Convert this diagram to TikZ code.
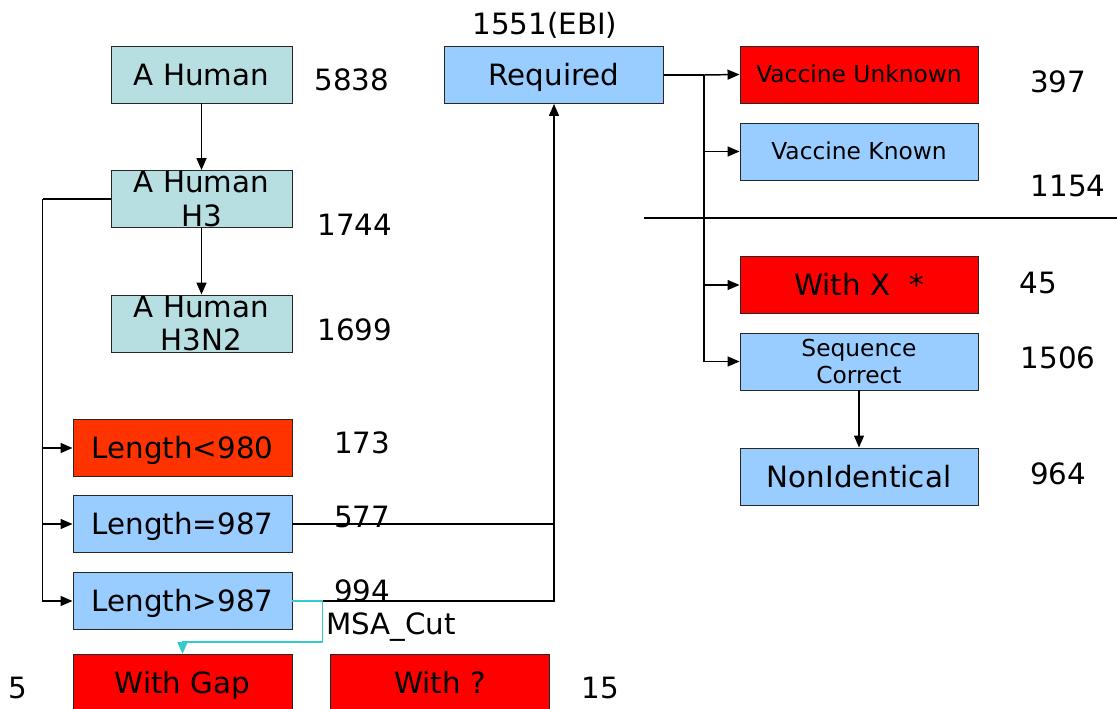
\documentclass[tikz,border=0pt]{standalone}
\usepackage{fontspec}
\setmainfont{DejaVu Sans}
\usetikzlibrary{arrows.meta}
\definecolor{humanteal}{HTML}{B7DEE0}
\definecolor{skyblue}{HTML}{99CCFF}
\definecolor{alertred}{HTML}{FF0000}
\definecolor{shortred}{HTML}{FF3300}
\definecolor{cutcyan}{HTML}{33CCCC}
\tikzset{
  box/.style={draw=black!85, line width=0.7pt, minimum height=42.75pt,
    inner sep=0pt, text height=16pt, text depth=0pt,
    font=\fontsize{22}{25}\selectfont},
  narrow/.style={box, minimum width=135.75pt},
  wide/.style={box, minimum width=164.25pt},
  wider/.style={box, minimum width=178.5pt},
  small/.style={font=\fontsize{17.5}{20.5}\selectfont, text height=12.75pt},
  twoline/.style={align=center, text height=, text depth=},
  count/.style={inner sep=0pt, font=\fontsize{22}{25}\selectfont},
  flow/.style={line width=1.1pt, -{Triangle[length=9pt, width=7.5pt]}},
  link/.style={line width=1.1pt},
  cut/.style={line width=1.1pt, draw=cutcyan, -{Triangle[length=9pt, width=7.5pt]}}
}

\begin{document}
\begin{tikzpicture}[x=0.75pt, y=-0.75pt]
  \useasboundingbox (0,0) rectangle (1117,709);

  % left column
  \node (human) [narrow, fill=humanteal] at (201.5,74.5) {A Human};
  \node (h3)    [narrow, fill=humanteal, label={[align=center, font=\fontsize{22}{25}\selectfont]center:A Human\\H3}] at (201.5,199) {};
  \node (h3n2)  [narrow, fill=humanteal, label={[align=center, font=\fontsize{22}{25}\selectfont]center:A Human\\H3N2}] at (201.5,323.5) {};

  \node (lenlt) [wide, fill=shortred] at (182.5,448) {Length<980};
  \node (leneq) [wide, fill=skyblue]  at (182.5,524) {Length=987};
  \node (lengt) [wide, fill=skyblue]  at (182.5,601) {Length>987};

  \node (withgap) [wide, fill=alertred] at (182.5,683) {With Gap};
  \node (withq)   [wide, fill=alertred] at (440,683)   {With ?};

  % middle and right column
  \node (required) [wide, fill=skyblue] at (554,75) {Required};

  \node (vunk)  [wider, small, fill=alertred] at (859,74.5)  {Vaccine Unknown};
  \node (vkn)   [wider, small, fill=skyblue]  at (859,151.5) {Vaccine Known};
  \node (withx) [wider, fill=alertred]        at (859,285)   {With X \ *};
  \node (seqc)  [wider, small, twoline, fill=skyblue] at (859,361.5) {Sequence\\Correct};
  \node (nonid) [wider, fill=skyblue]         at (859,476.5) {NonIdentical};

  % counts
  \node (nhuman) [count] at (352,80)  {5838};
  \node (nh3)    [count] at (355,225) {1744};
  \node (nh3n2)  [count] at (355,330) {1699};
  \node (nlenlt) [count] at (362,443) {173};
  \node (nleneq) [count] at (362,517) {577};
  \node (nlengt) [count] at (362,591) {994};
  \node (ncut)   [count] at (391,627) {MSA\_Cut};
  \node (ngap)   [count] at (18,688)  {5};
  \node (nq)     [count] at (600,688) {15};
  \node (nebi)   [count] at (545,25)  {1551(EBI)};
  \node (nvunk)  [count] at (1058,82)  {397};
  \node (nvkn)   [count] at (1068,186) {1154};
  \node (nwithx) [count] at (1038,283) {45};
  \node (nseqc)  [count] at (1058,358) {1506};
  \node (nnonid) [count] at (1058,474) {964};

  % connectors
  \draw [flow] (human) -- (h3);
  \draw [flow] (h3) -- (h3n2);

  \draw [link] (h3.west) -- ++(-68,0) coordinate (busL);
  \draw [flow] (busL) |- (lengt.west);
  \draw [flow] (busL |- lenlt.west) -- (lenlt.west);
  \draw [flow] (busL |- leneq.west) -- (leneq.west);

  \draw [link] (leneq.east) -- (leneq.east -| required.south);
  \draw [flow] (lengt.east) -| (required.south);

  \draw [link] (required.east) -- ++(40,0) coordinate (busR);
  \draw [flow] (busR) |- (seqc.west);
  \draw [flow] (busR) -- (vunk.west);
  \draw [flow] (busR |- vkn.west) -- (vkn.west);
  \draw [flow] (busR |- withx.west) -- (withx.west);

  \draw [flow] (seqc) -- (nonid);

  \draw [cut] (lengt.east) -- ++(30,0) -- ++(0,41) -| (withgap.north);

  % separator
  \coordinate (sepL) at (644,218);
  \coordinate (sepR) at (1117,218);
  \draw [line width=0.8pt] (sepL) -- (sepR);
\end{tikzpicture}
\end{document}
